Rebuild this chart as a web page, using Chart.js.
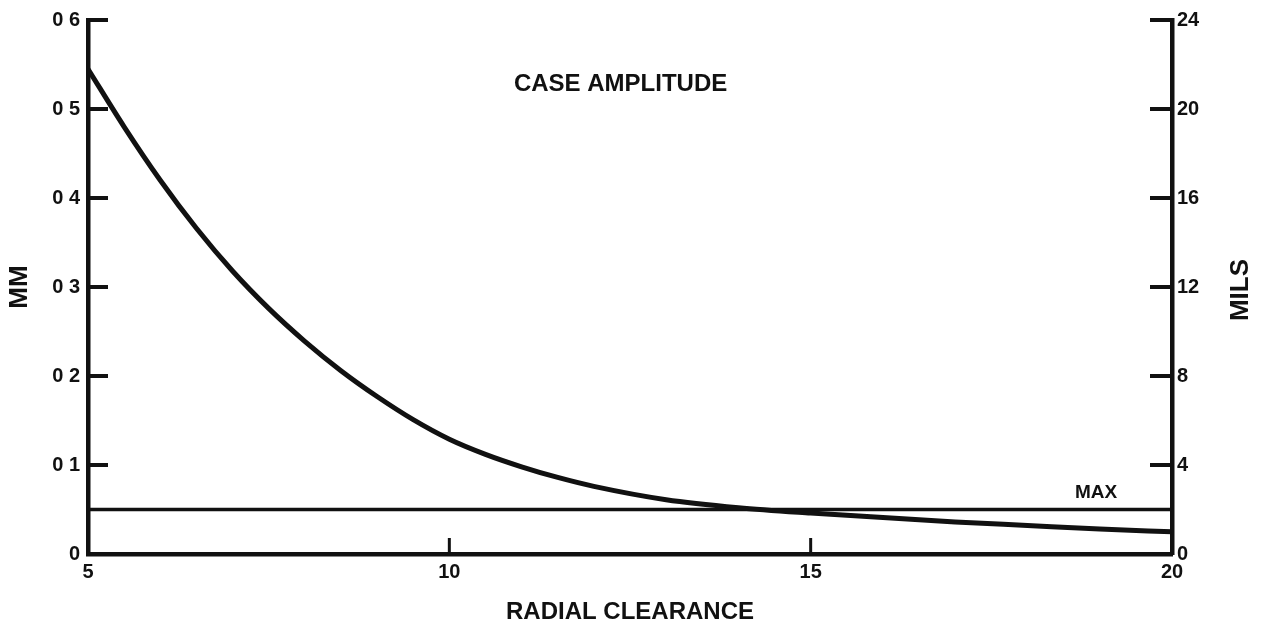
<!DOCTYPE html>
<html>
<head>
<meta charset="utf-8">
<title>Case amplitude vs radial clearance</title>
<script src="https://cdn.jsdelivr.net/npm/chart.js@4/dist/chart.umd.min.js"></script>
<style>
  html, body { margin: 0; padding: 0; background: #fff; }
  #wrap { width: 1270px; height: 628px; position: relative; }
</style>
</head>
<body>
<div id="wrap"><canvas id="ampChart"></canvas></div>
<script>
// radial clearance (x) and case amplitude in mm (y)
const clearance = [5, 5.5, 6, 6.5, 7, 7.5, 8, 8.5, 9, 9.5, 10, 10.5, 11, 11.5, 12, 13, 14, 15, 16, 17, 18, 19, 20];
const amplitudeMm = [0.545, 0.480, 0.420, 0.366, 0.318, 0.276, 0.239, 0.206, 0.177, 0.151, 0.129, 0.112, 0.098, 0.086, 0.076, 0.061, 0.052, 0.046, 0.041, 0.036, 0.032, 0.028, 0.025];

// allowed maximum, mm
const maxLimit = 0.05;
const maxRange = [5, 20];

// tick values
const xTicks = [5, 10, 15, 20];
const mmTicks = [0, 0.1, 0.2, 0.3, 0.4, 0.5, 0.6];
const milsTicks = [0, 4, 8, 12, 16, 20, 24];

const FONT = '"Liberation Sans", Arial, Helvetica, sans-serif';
const INK = '#111';

// short tick marks drawn inwards from each axis, plus the free text
const innerTicks = {
    id: 'innerTicks',
    afterDraw(chart) {
        const { ctx, chartArea: a, scales } = chart;
        ctx.save();
        ctx.strokeStyle = INK;
        ctx.lineCap = 'butt';

        ctx.lineWidth = 4;
        mmTicks.filter(v => v > 0).forEach(v => {
            const y = scales.y.getPixelForValue(v);
            ctx.beginPath();
            ctx.moveTo(a.left, y);
            ctx.lineTo(a.left + 20, y);
            ctx.stroke();
        });
        milsTicks.filter(v => v > 0).forEach(v => {
            const y = scales.y2.getPixelForValue(v);
            ctx.beginPath();
            ctx.moveTo(a.right - 22, y);
            ctx.lineTo(a.right, y);
            ctx.stroke();
        });
        ctx.lineWidth = 3;
        xTicks.filter(v => v > 5 && v < 20).forEach(v => {
            const x = scales.x.getPixelForValue(v);
            ctx.beginPath();
            ctx.moveTo(x, a.bottom);
            ctx.lineTo(x, a.bottom - 16);
            ctx.stroke();
        });

        ctx.fillStyle = INK;
        ctx.textAlign = 'center';
        ctx.textBaseline = 'middle';
        ctx.font = 'bold 24px ' + FONT;
        ctx.fillText('CASE AMPLITUDE', scales.x.getPixelForValue(12.37), scales.y.getPixelForValue(0.528));
        ctx.font = 'bold 19px ' + FONT;
        ctx.fillText('MAX', scales.x.getPixelForValue(18.95), scales.y.getPixelForValue(0.069));

        // right axis title reads bottom to top like the left one
        ctx.font = 'bold 26px ' + FONT;
        ctx.translate(1241, (a.top + a.bottom) / 2 + 3);
        ctx.rotate(-Math.PI / 2);
        ctx.fillText('MILS', 0, 0);
        ctx.restore();
    }
};

const ctx = document.getElementById('ampChart').getContext('2d');

new Chart(ctx, {
    type: 'line',
    data: {
        datasets: [
            {
                label: 'Case amplitude',
                data: clearance.map((c, i) => ({ x: c, y: amplitudeMm[i] })),
                borderColor: INK,
                borderWidth: 5,
                pointRadius: 0,
                cubicInterpolationMode: 'monotone',
                yAxisID: 'y',
            },
            {
                label: 'Max',
                data: maxRange.map(c => ({ x: c, y: maxLimit })),
                borderColor: INK,
                borderWidth: 3.5,
                pointRadius: 0,
                yAxisID: 'y',
            },
        ],
    },
    options: {
        responsive: true,
        maintainAspectRatio: false,
        animation: false,
        layout: { padding: { top: 19, left: 0, right: 0, bottom: 0 } },
        plugins: {
            legend: { display: false },
            tooltip: { enabled: false },
        },
        scales: {
            x: {
                type: 'linear',
                min: 5,
                max: 20,
                afterBuildTicks: (s) => { s.ticks = xTicks.map(v => ({ value: v })); },
                afterFit: (s) => { s.height = 74; },
                grid: { display: false, drawTicks: false },
                border: { display: true, width: 4.5, color: INK },
                ticks: {
                    color: INK,
                    padding: 6,
                    maxRotation: 0,
                    font: { family: FONT, size: 20, weight: 'bold' },
                },
                title: {
                    display: true,
                    text: 'RADIAL CLEARANCE',
                    color: INK,
                    padding: { top: 0, bottom: 1 },
                    font: { family: FONT, size: 24, weight: 'bold' },
                },
            },
            y: {
                position: 'left',
                min: 0,
                max: 0.6,
                afterBuildTicks: (s) => { s.ticks = mmTicks.map(v => ({ value: v })); },
                afterFit: (s) => { s.width = 88; },
                grid: { display: false, drawTicks: false },
                border: { display: true, width: 4.5, color: INK },
                ticks: {
                    color: INK,
                    padding: 8,
                    font: { family: FONT, size: 20, weight: 'bold' },
                    callback: (v) => (v === 0 ? '0' : '0 ' + Math.round(v * 10)),
                },
                title: {
                    display: true,
                    text: 'MM',
                    color: INK,
                    padding: { top: 4, bottom: 0 },
                    font: { family: FONT, size: 26, weight: 'bold' },
                },
            },
            y2: {
                position: 'right',
                min: 0,
                max: 24,
                afterBuildTicks: (s) => { s.ticks = milsTicks.map(v => ({ value: v })); },
                afterFit: (s) => { s.width = 98; },
                grid: { display: false, drawTicks: false },
                border: { display: true, width: 4.5, color: INK },
                ticks: {
                    color: INK,
                    padding: 5,
                    font: { family: FONT, size: 20, weight: 'bold' },
                },
            },
        },
    },
    plugins: [innerTicks],
});
</script>
</body>
</html>
